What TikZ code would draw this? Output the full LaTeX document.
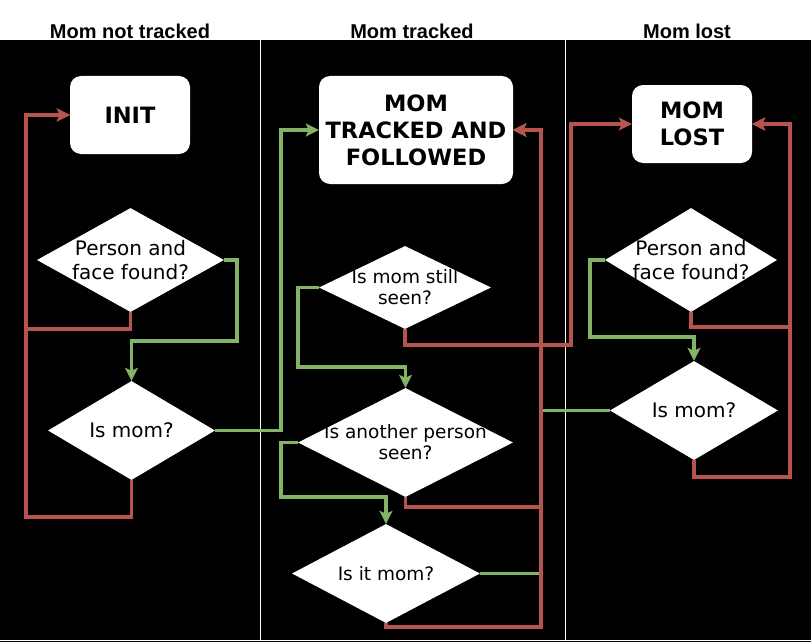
\documentclass[tikz,border=0pt]{standalone}
\usepackage{fontspec}
\setmainfont{DejaVu Sans}
\newfontfamily\hdrfont{Liberation Sans}
\usetikzlibrary{shapes.geometric,arrows.meta}
\definecolor{redln}{HTML}{B85450}
\definecolor{greenln}{HTML}{82B366}
\tikzset{
  lanehdr/.style={anchor=base,font=\hdrfont\bfseries\fontsize{20}{24}\selectfont,text=black},
  statebox/.style={rectangle,rounded corners=11pt,fill=white,draw=none,inner sep=0pt,align=center,
    font=\bfseries\fontsize{22.5}{27}\selectfont},
  dia/.style={diamond,fill=white,draw=none,inner sep=0pt},
  dtext/.style={align=center,font=\fontsize{20}{24}\selectfont,inner sep=0pt},
  dtextsm/.style={align=center,font=\fontsize{18.5}{21}\selectfont,inner sep=0pt},
  conn/.style={line width=3.2pt,-{Stealth[length=13pt,width=13pt,inset=3pt]}},
  rl/.style={conn,draw=redln,color=redln},
  gl/.style={conn,draw=greenln,color=greenln},
}
\begin{document}
\begin{tikzpicture}[x=1pt,y=-1pt]
\useasboundingbox (0,0) rectangle (811,642);
\fill[white] (0,0) rectangle (811,642);
\fill[black] (0,40) rectangle (811,642);
\draw[white,line width=1pt] (260,40) -- (260,640) (565,40) -- (565,640) (0,640) -- (811,640);
% headers
\node[lanehdr] (h1) at (130,38.5) {Mom not tracked};
\node[lanehdr] (h2) at (412,38.5) {Mom tracked};
\node[lanehdr] (h3) at (687,38.5) {Mom lost};
% states
\node[statebox,minimum width=120pt,minimum height=78pt] (init) at (130,115) {INIT};
\node[statebox,minimum width=194pt,minimum height=108pt] (mt) at (416,130) {MOM\\TRACKED AND\\FOLLOWED};
\node[statebox,minimum width=120pt,minimum height=78pt] (ml) at (692,124) {MOM\\LOST};
% decisions
\node[dia,minimum width=187pt,minimum height=104pt,label={[dtext]center:Person and\\face found?}] (pf1) at (130.5,260) {};
\node[dia,minimum width=167pt,minimum height=99pt,label={[dtext]center:Is mom?}] (im1) at (131.5,430.5) {};
\node[dia,minimum width=172pt,minimum height=83pt,label={[dtextsm]center:Is mom still\\seen?}] (ms) at (405,287.5) {};
\node[dia,minimum width=215pt,minimum height=109pt,label={[dtextsm]center:Is another person\\seen?}] (ap) at (405.5,442.5) {};
\node[dia,minimum width=188pt,minimum height=99pt,label={[dtextsm]center:Is it mom?}] (im2) at (386,573.5) {};
\node[dia,minimum width=172pt,minimum height=104pt,label={[dtext]center:Person and\\face found?}] (pf3) at (691,260) {};
\node[dia,minimum width=168pt,minimum height=99pt,label={[dtext]center:Is mom?}] (im3) at (694,410.5) {};
% green connectors first
\draw[gl] (pf1.east) -| (237,341) -| (im1.north);
\draw[gl] (im1.east) -| (281,130) -- (mt.west);
\draw[gl] (ms.west) -| (298,367) -| (ap.north);
\draw[gl] (ap.west) -| (281,497) -| (im2.north);
\draw[gl] (im2.east) -| (541,130) -- (mt.east);
\draw[gl] (im3.west) -| (541,130) -- (mt.east);
\draw[gl] (pf3.west) -| (590,337) -| (im3.north);
% red connectors
\draw[rl] (pf1.south) |- (26,329) |- (init.west);
\draw[rl] (im1.south) |- (26,517) |- (init.west);
\draw[rl] (ms.south) |- (571,345) |- (ml.west);
\draw[rl] (ap.south) |- (541,507) |- (mt.east);
\draw[rl] (im2.south) |- (541,627) |- (mt.east);
\draw[rl] (pf3.south) |- (790,327) |- (ml.east);
\draw[rl] (im3.south) |- (790,477) |- (ml.east);
\end{tikzpicture}
\end{document}
